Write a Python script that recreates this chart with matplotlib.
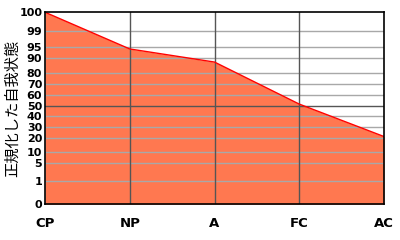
import matplotlib
matplotlib.use("Agg")
import matplotlib.pyplot as plt
import numpy as np

categories = ["CP", "NP", "A", "FC", "AC"]
scores = [100, 94.2, 87.5, 52, 21.5]

# percentile ticks and where they sit on the chart (0..1 from bottom)
tick_values = [0, 1, 5, 10, 20, 30, 40, 50, 60, 70, 80, 90, 95, 99, 100]
tick_positions = [0, 0.12, 0.213, 0.271, 0.344, 0.401, 0.46, 0.51, 0.568,
                  0.625, 0.682, 0.76, 0.818, 0.904, 1.0]


def forward(v):
    return np.interp(v, tick_values, tick_positions)


def inverse(p):
    return np.interp(p, tick_positions, tick_values)


fig = plt.figure(figsize=(4, 2.4), dpi=100)
ax = fig.add_axes([0.1125, 0.149, 0.8475, 0.8])
ax.set_yscale("function", functions=(forward, inverse))

x = np.arange(len(categories))
ax.fill_between(x, 0, scores, color="#FF7850", linewidth=0, zorder=1)
ax.plot(x, scores, color="#FF0000", linewidth=1.0, zorder=3)

for v in tick_values[1:-1]:
    ax.axhline(v, color="#555555" if v == 50 else "#A8A8A8", linewidth=1.0, zorder=2)
for xi in x[1:-1]:
    ax.axvline(xi, color="#555555", linewidth=1.0, zorder=2)

ax.set_xlim(0, len(categories) - 1)
ax.set_ylim(0, 100)
ax.set_xticks(x)
ax.set_xticklabels(categories, fontsize=9.5, fontweight="bold")
ax.set_yticks(tick_values)
ax.set_yticklabels([str(v) for v in tick_values], fontsize=8, fontweight="bold")
ax.tick_params(axis="x", length=0, pad=9)
ax.tick_params(axis="y", length=0, pad=2)
ax.minorticks_off()
for spine in ax.spines.values():
    spine.set_color("black")
    spine.set_linewidth(1.2)
    spine.set_zorder(4)

fig.text(0.032, 0.55, "正規化した自我状態", rotation=90, ha="center", va="center",
         fontsize=11, family=["Noto Sans CJK JP", "DejaVu Sans"])

fig.savefig("out.png", dpi=100)
plt.close(fig)
